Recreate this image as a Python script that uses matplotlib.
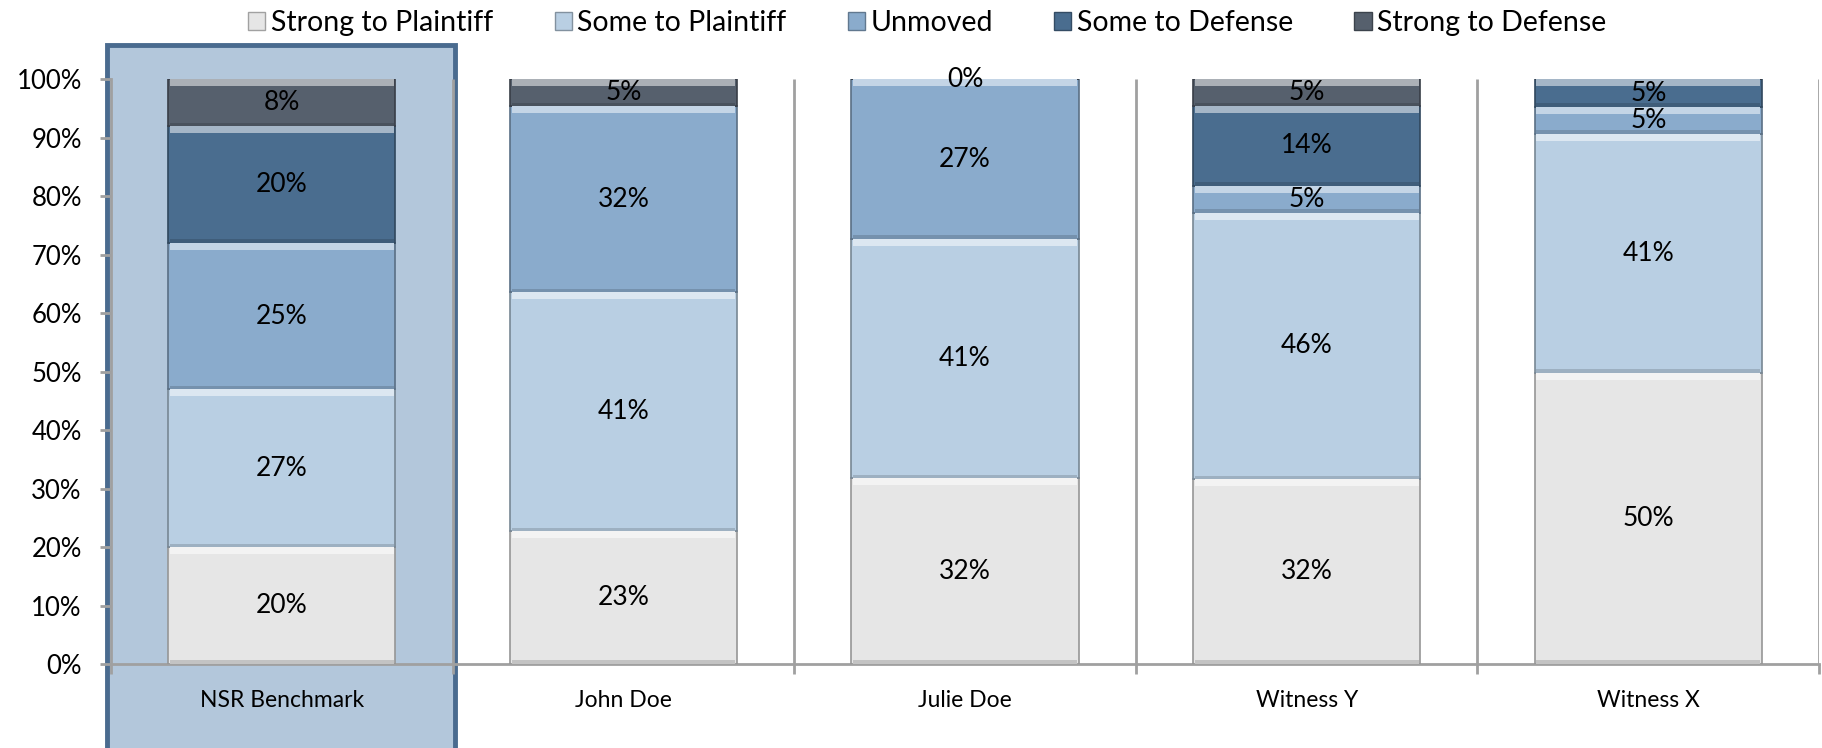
import numpy as np
import matplotlib
matplotlib.use("Agg")
import matplotlib.pyplot as plt
from matplotlib.patches import Patch, Rectangle
from matplotlib.colors import to_rgb

plt.rcParams['font.family'] = ['Lato', 'DejaVu Sans']

# data (percent of respondents); nan = no segment and no label
witnesses = ["NSR Benchmark", "John Doe", "Julie Doe", "Witness Y", "Witness X"]
series = ["Strong to Plaintiff", "Some to Plaintiff", "Unmoved", "Some to Defense", "Strong to Defense"]
strong_plaintiff = [20, 22.7, 31.8, 31.6, 49.8]
some_plaintiff = [27, 40.9, 40.9, 45.6, 40.9]
unmoved = [25, 31.8, 27.3, 4.6, 4.6]
some_defense = [20, np.nan, np.nan, 13.6, 4.7]
strong_defense = [8, 4.6, 0, 4.6, np.nan]
yticks = [0, 10, 20, 30, 40, 50, 60, 70, 80, 90, 100]

colors = ["#E6E6E6", "#B9CFE3", "#8AABCC", "#4A6D8F", "#56606D"]
grid_col = "#A0A0A0"


def mix(c, other, f):
    a = np.array(to_rgb(c))
    b = np.array(to_rgb(other))
    return tuple(a * (1 - f) + b * f)


fig = plt.figure(figsize=(18.22, 7.48), dpi=100)
ax = fig.add_axes([0.0609, 0.1123, 0.9375, 0.7817])

x = np.arange(len(witnesses))
width = 0.665

# highlighted benchmark column
ax.add_patch(Rectangle((x[0] - 0.512, -20), 1.02, 125.9, facecolor="#B3C7DB",
                       edgecolor="#4A6B8F", lw=3.5, clip_on=False, zorder=0))

# category separators
for b in np.arange(len(witnesses)) + 0.5:
    ax.plot([b, b], [0, 100], color=grid_col, lw=2, zorder=1, solid_capstyle='butt')

bottom = np.zeros(len(witnesses))
all_vals = [strong_plaintiff, some_plaintiff, unmoved, some_defense, strong_defense]
for vals, col, name in zip(all_vals, colors, series):
    v = np.nan_to_num(np.array(vals, dtype=float))
    ax.bar(x, v, width, bottom=bottom, color=col, edgecolor=mix(col, "black", 0.35),
           lw=1.2, zorder=3)
    # bevel: light strip on top, darker strip at the bottom of each segment
    hv = np.where(v > 1.5, 1.2, 0)
    ax.bar(x, hv, width - 0.01, bottom=bottom + v - hv, color=mix(col, "white", 0.5),
           lw=0, zorder=4)
    sv = np.where(v > 1.5, 0.6, 0)
    ax.bar(x, sv, width - 0.01, bottom=bottom, color=mix(col, "black", 0.15),
           lw=0, zorder=4)
    for i, val in enumerate(vals):
        if not np.isnan(val):
            ax.text(x[i], bottom[i] + v[i] / 2, f"{val:.0f}%", ha="center", va="center",
                    fontsize=19, color="black", zorder=5)
    bottom += v

ax.set_xlim(-0.5, len(witnesses) - 0.5)
ax.set_ylim(0, 100)
ax.set_yticks(yticks)
ax.set_yticklabels([f"{t}%" for t in yticks], fontsize=18.5)
ax.set_xticks(x)
ax.set_xticklabels(witnesses, fontsize=16.5)
ax.set_xticks(np.arange(len(witnesses) + 1) - 0.5, minor=True)
ax.tick_params(axis="x", which="major", length=0, pad=19)
ax.tick_params(axis="x", which="minor", length=7, width=2, color=grid_col)
ax.tick_params(axis="y", length=8, width=2, color=grid_col, pad=13)

for s in ["top", "right"]:
    ax.spines[s].set_visible(False)
for s in ["left", "bottom"]:
    ax.spines[s].set_color(grid_col)
    ax.spines[s].set_linewidth(2)
ax.set_facecolor("none")

handles = [Patch(facecolor=c, edgecolor=mix(c, "black", 0.3), lw=1) for c in colors]
fig.legend(handles, series, loc="center", bbox_to_anchor=(0.509, 0.969), ncol=5,
           frameon=False, fontsize=20.5, handlelength=0.6, handleheight=0.6,
           handletextpad=0.2, columnspacing=2.15)

fig.savefig("out.png", dpi=100)
